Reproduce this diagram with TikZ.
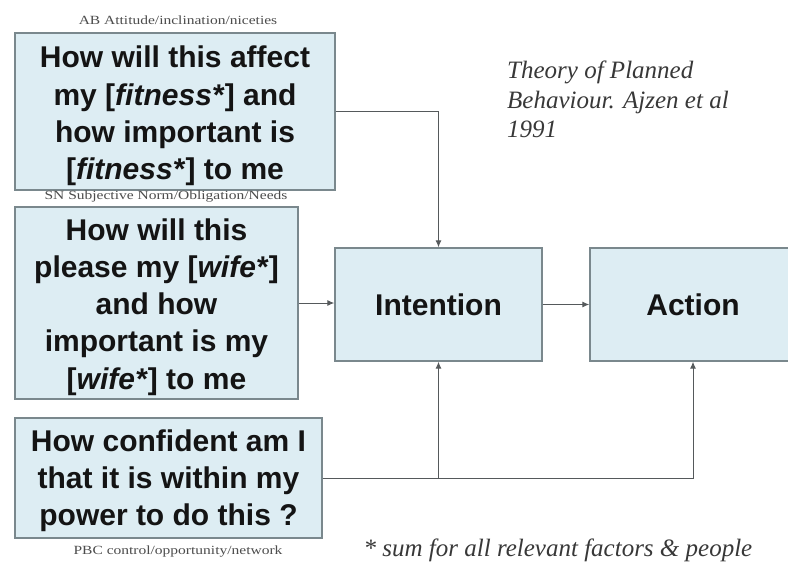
\documentclass[tikz,border=0pt]{standalone}
\usepackage{fontspec}
\setmainfont{Liberation Serif}
\newfontfamily\boxfont{Liberation Sans}
\usetikzlibrary{arrows.meta}
\definecolor{boxfill}{HTML}{DDEDF3}
\definecolor{boxline}{HTML}{7A888D}
\definecolor{linkline}{HTML}{55595B}
\definecolor{inktext}{HTML}{141414}
\begin{document}
\begin{tikzpicture}[x=1pt,y=-1pt,
  qbox/.style={draw=boxline, fill=boxfill, line width=1.4pt, inner sep=0pt,
    align=center, text=inktext,
    font=\boxfont\bfseries\fontsize{30}{37.2}\selectfont},
  link/.style={draw=linkline, line width=1pt},
  tip/.style={link, -{Latex[length=7pt,width=6pt]}},
  tag/.style={inner sep=0pt, text=black!70, font=\fontsize{12.5}{14}\selectfont},
  note/.style={inner sep=0pt, text=black!78, font=\itshape\fontsize{25}{29.5}\selectfont},
]
\useasboundingbox (0,0) rectangle (788,562);
\begin{scope}
\clip (0,0) rectangle (788,562);

% question boxes
\node[qbox, minimum width=320pt, minimum height=157pt] (att) at (175,111.5) {};
\node[qbox, minimum width=283pt, minimum height=192pt] (norm) at (156.5,303) {};
\node[qbox, minimum width=307pt, minimum height=120pt] (ctrl) at (168.5,478) {};
\node[qbox, draw=none, fill=none] (atttext) at (175,116)
  {How will this affect\\my {[}\textit{fitness*}{]} and\\how important is\\{[}\textit{fitness*}{]} to me};
\node[qbox, draw=none, fill=none] (normtext) at (156.5,307)
  {How will this\\please my {[}\textit{wife*}{]}\\and how\\important is my\\{[}\textit{wife*}{]} to me};
\node[qbox, draw=none, fill=none] (ctrltext) at (168.5,481)
  {How confident am I\\that it is within my\\power to do this ?};

% outcome boxes
\node[qbox, minimum width=207pt, minimum height=113pt] (int) at (438.5,304.5) {Intention};
\node[qbox, minimum width=206pt, minimum height=113pt] (act) at (693,304.5) {Action};

% captions of the three factors
\node[tag] (tagatt) at (178,20) {\scalebox{1.24}[1]{AB Attitude/inclination/niceties}};
\node[tag] (tagnorm) at (166,197) {\scalebox{1.24}[1]{SN Subjective Norm/Obligation/Needs}};
\node[tag] (tagctrl) at (178,552) {\scalebox{1.24}[1]{PBC control/opportunity/network}};

% title and footnote
\node[note, anchor=north west, align=left] (title) at (507,61)
  {Theory of Planned\\Behaviour. Ajzen et al\\1991};
\node[note] (foot) at (558,550) {* sum for all relevant factors \& people};

% connectors
\draw[tip] (att.east) -| (int.north);
\draw[tip] (norm.east) -- (norm.east -| int.west);
\draw[tip] (int.east) -- (act.west);
\coordinate (split) at (ctrl.east -| int.south);
\draw[link] (ctrl.east) -- (split);
\draw[tip] (split) -- (int.south);
\draw[tip] (split) -| (act.south);
\end{scope}
\end{tikzpicture}
\end{document}
